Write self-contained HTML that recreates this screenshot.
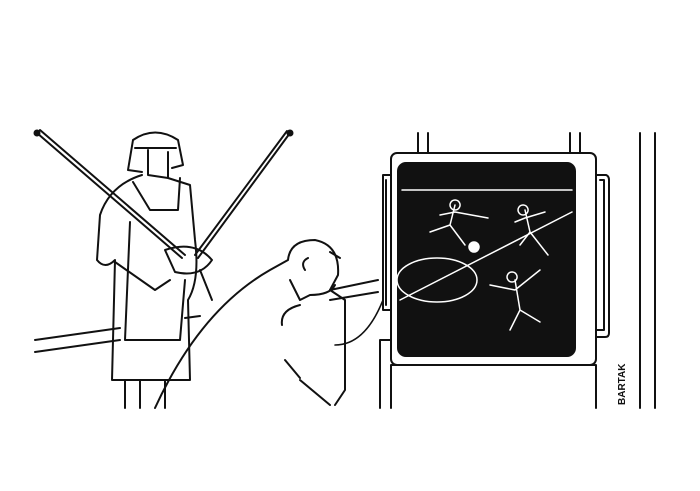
<!DOCTYPE html>
<html><head><style>html,body{margin:0;padding:0;background:#fff;width:700px;height:491px;overflow:hidden}</style></head>
<body>
<svg width="700" height="491" viewBox="0 0 700 491" xmlns="http://www.w3.org/2000/svg" fill="none" stroke="#111" stroke-width="2" stroke-linejoin="round" stroke-linecap="round">
<!-- wall/floor rails -->
<path d="M35 340 L120 328 M35 352 L120 340 M185 318 L200 316 M330 290 L378 280 M330 300 L378 292"/>
<!-- right posts -->
<path d="M640 133 L640 408 M655 133 L655 408"/>
<path d="M418 133 L418 153 M428 133 L428 153 M570 133 L570 153 M580 133 L580 153"/>
<!-- monitor -->
<rect x="391" y="153" width="205" height="212" rx="6"/>
<rect x="398" y="163" width="177" height="193" rx="8" fill="#111"/>
<path d="M391 365 L391 408 M380 340 L380 408 M596 365 L596 408 M380 340 L391 340 M391 365 L596 365"/>
<!-- handles -->
<path d="M391 175 L383 175 L383 310 L391 310 M386 180 L386 305"/>
<path d="M596 175 L606 175 Q609 176 609 180 L609 333 Q609 337 605 337 L596 337 M600 180 L604 180 L604 330 L596 330"/>
<!-- cable -->
<path d="M335 345 Q365 345 383 300" stroke-width="1.6"/>
<!-- pitch lines -->
<g stroke="#fff" stroke-width="1.5">
<path d="M402 190 L572 190 M400 300 L572 212"/>
<ellipse cx="437" cy="280" rx="40" ry="22"/>
<circle cx="474" cy="247" r="5" fill="#fff"/>
<path d="M455 205 L450 225 L430 232 M450 225 L465 245 M455 212 L440 215 M455 212 L488 218 M455 200 a5 5 0 1 0 .1 0"/>
<path d="M525 210 L530 232 L520 245 M530 232 L548 255 M525 218 L515 222 M525 218 L545 212 M523 205 a5 5 0 1 0 .1 0"/>
<path d="M515 280 L520 310 L510 330 M520 310 L540 322 M515 290 L490 285 M515 290 L540 270 M512 272 a5 5 0 1 0 .1 0"/>
</g>
<!-- woman -->
<path d="M133 140 L128 170 L142 172 M178 140 L183 165 L172 168 M133 140 Q155 125 178 140 M135 148 L176 148"/>
<path d="M148 150 L148 175 L168 178 L168 152"/>
<path d="M142 175 Q110 185 100 215 L97 260 Q105 270 115 260 L112 380 L190 380 L188 300 Q200 280 195 240 L190 185 L168 178"/>
<path d="M133 182 L150 210 L178 210 L180 178 M130 222 L125 340 L180 340 L185 280"/>
<path d="M115 262 L155 290 L170 280"/>
<path d="M125 380 L125 408 M140 380 L140 408 M165 380 L165 408"/>
<path d="M165 250 Q195 240 212 260 Q200 278 175 272 Z"/>
<path d="M200 270 L212 300"/>
<!-- antennas -->
<path d="M37 133 L182 258 M40 130 L185 255 M290 133 L198 258 M287 131 L195 255"/>
<circle cx="37" cy="133" r="2.5" fill="#111"/><circle cx="290" cy="133" r="2.5" fill="#111"/>
<!-- man -->
<path d="M155 408 Q200 310 270 270 L288 260 Q290 240 315 240 Q340 245 338 275 L330 290 L345 300 L345 390 L335 405"/>
<path d="M308 258 Q300 262 305 270 M330 252 L340 258 M290 280 L300 300 L310 295 Q330 295 335 285"/>
<path d="M300 305 Q280 310 282 325 M300 380 L330 405 M285 360 L300 378"/>
<!-- signature -->
<text x="625" y="405" transform="rotate(-90 625 405)" font-family="Liberation Sans, sans-serif" font-size="10" font-weight="bold" fill="#111" stroke="none">BARTAK</text>
</svg>
</body></html>
